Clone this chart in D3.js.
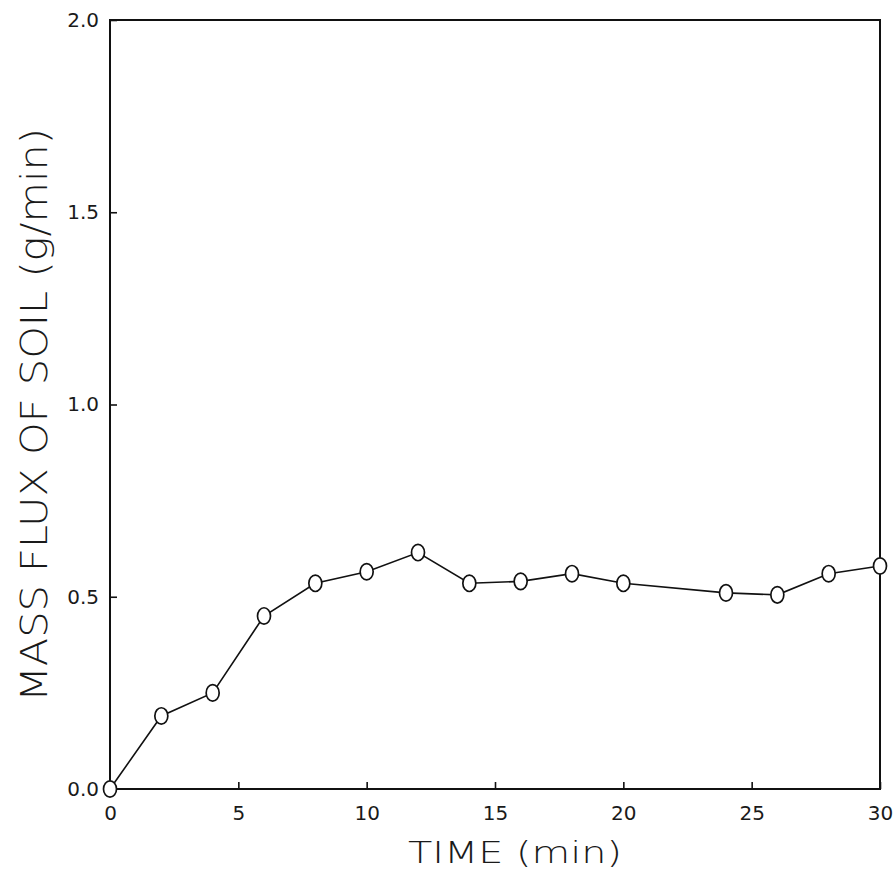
<!DOCTYPE html>
<html>
<head>
<meta charset="utf-8">
<script src="https://cdn.jsdelivr.net/npm/d3@7"></script>
<style>
  body { margin:0; background:#fff; }
  svg text { fill:#1a1a1a; }
</style>
</head>
<body>
<svg id="chart" width="896" height="879"></svg>
<script>
// values
const timeMin = [0, 2, 4, 6, 8, 10, 12, 14, 16, 18, 20, 24, 26, 28, 30];
const massFlux = [0, 0.19, 0.25, 0.45, 0.535, 0.565, 0.615, 0.535, 0.54, 0.56, 0.535, 0.51, 0.505, 0.56, 0.58];
const xTicks = [0, 5, 10, 15, 20, 25, 30];
const yTicks = [0, 0.5, 1.0, 1.5, 2.0];

const svg = d3.select('#chart');
const m = {left:110, right:16, top:20, bottom:90};
const W = 896, H = 879;

let x = d3.scaleLinear().domain([0,30]).range([m.left, W-m.right]);
let y = d3.scaleLinear().domain([0,2]).range([H-m.bottom, m.top]);

// x axis, ticks point inward
let gx = svg.append('g')
    .attr('transform',`translate(0,${y(0)})`)
    .call(d3.axisBottom(x).tickValues(xTicks).tickSizeInner(-7).tickSizeOuter(0).tickPadding(17).tickFormat(d3.format('d')));
let gy = svg.append('g')
    .attr('transform',`translate(${x(0)},0)`)
    .call(d3.axisLeft(y).tickValues(yTicks).tickSizeInner(-7).tickSizeOuter(0).tickPadding(11).tickFormat(d3.format('.1f')));

[gx,gy].forEach(g=>{
    g.select('.domain').remove();
    g.selectAll('.tick line').attr('stroke','#111').attr('stroke-width',1.6);
    g.selectAll('.tick text').attr('font-family','DejaVu Sans').attr('font-size',20).attr('fill','#1a1a1a');
});

// frame
svg.append('rect')
    .attr('x',x(0)).attr('y',y(2))
    .attr('width',x(30)-x(0)).attr('height',y(0)-y(2))
    .attr('fill','none').attr('stroke','#111').attr('stroke-width',2);

// line + markers
let pts = timeMin.map((t,i)=>({t:t,v:massFlux[i]}));
svg.append('path')
    .datum(pts)
    .attr('fill','none').attr('stroke','#111').attr('stroke-width',1.6)
    .attr('d', d3.line().x(d=>x(d.t)).y(d=>y(d.v)));

svg.selectAll('ellipse.pt')
    .data(pts)
    .enter().append('ellipse')
    .attr('class','pt')
    .attr('cx',d=>x(d.t)).attr('cy',d=>y(d.v))
    .attr('rx',6.5).attr('ry',8.2)
    .attr('fill','#fff').attr('stroke','#111').attr('stroke-width',1.7);

// axis titles
svg.append('text')
    .attr('x',408).attr('y',863)
    .attr('font-family','DejaVu Sans').attr('font-weight',200).attr('font-size',30)
    .attr('textLength',214).attr('lengthAdjust','spacingAndGlyphs')
    .text('TIME (min)');

svg.append('text')
    .attr('transform','translate(47,702) rotate(-90)')
    .attr('font-family','DejaVu Sans').attr('font-weight',200).attr('font-size',38)
    .attr('textLength',574).attr('lengthAdjust','spacingAndGlyphs')
    .text('MASS FLUX OF SOIL (g/min)');
</script>
</body>
</html>
